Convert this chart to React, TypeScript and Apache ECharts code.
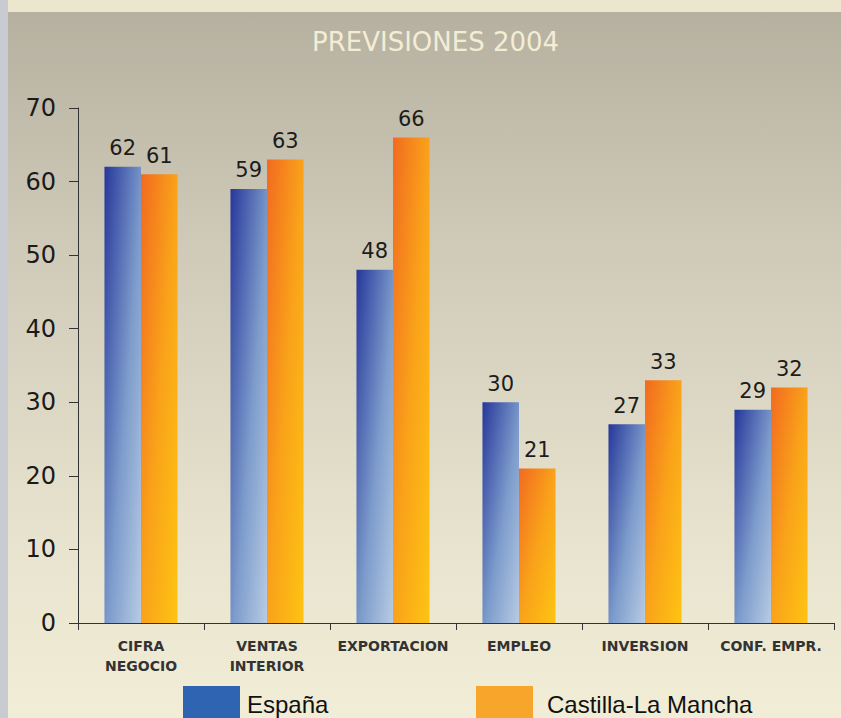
import React, { useEffect, useRef } from "react";
import * as echarts from "echarts";

const categories = ["CIFRA\nNEGOCIO", "VENTAS\nINTERIOR", "EXPORTACION", "EMPLEO", "INVERSION", "CONF. EMPR."];
const espana = [62, 59, 48, 30, 27, 29];
const castilla = [61, 63, 66, 21, 33, 32];
const yTicks = [0, 10, 20, 30, 40, 50, 60, 70];
const title = "PREVISIONES 2004";

export default function App() {
  const ref = useRef<HTMLDivElement>(null);
  useEffect(() => {
    const chart = echarts.init(ref.current!, null, { renderer: "svg" });
    const blueGrad = new echarts.graphic.LinearGradient(0, 0, 1, 1, [
      { offset: 0, color: "#26379a" },
      { offset: 0.55, color: "#7d9ccc" },
      { offset: 1, color: "#b7cbe3" },
    ]);
    const orangeGrad = new echarts.graphic.LinearGradient(0, 0, 1, 1, [
      { offset: 0, color: "#f26a1f" },
      { offset: 0.5, color: "#f9a21a" },
      { offset: 1, color: "#fec412" },
    ]);
    const labelStyle = {
      show: true,
      position: "top" as const,
      distance: 8,
      fontFamily: "DejaVu Sans",
      fontSize: 21,
      color: "#1c1c1c",
    };
    const legendText = { fontFamily: "Liberation Sans", fontSize: 24, color: "#111" };
    chart.setOption({
      animation: false,
      backgroundColor: "transparent",
      graphic: [
        {
          type: "rect",
          z: -10,
          silent: true,
          shape: { x: 0, y: 0, width: 841, height: 718 },
          style: {
            fill: new echarts.graphic.LinearGradient(0, 0, 0, 1, [
              { offset: 0, color: "#b5af9f" },
              { offset: 0.35, color: "#d0cbb9" },
              { offset: 0.75, color: "#e8e3ce" },
              { offset: 1, color: "#f2edd6" },
            ]),
          },
        },
        { type: "rect", z: -9, silent: true, shape: { x: 0, y: 0, width: 841, height: 12 }, style: { fill: "#ede6cf" } },
        { type: "rect", z: -9, silent: true, shape: { x: 0, y: 0, width: 8, height: 718 }, style: { fill: "#c9cbd3" } },
        {
          type: "text",
          left: 312,
          top: 29,
          style: {
            text: title,
            fontFamily: "DejaVu Sans",
            fontSize: 26,
            fill: "#f3edd5",
          },
        },
      ],
      legend: [
        {
          data: [{ name: "España", icon: "rect", itemStyle: { color: "#2e64b2" } }],
          left: 178,
          top: 681,
          itemWidth: 57,
          itemHeight: 36,
          textStyle: { ...legendText, padding: [0, 0, 0, 2] },
        },
        {
          data: [{ name: "Castilla-La Mancha", icon: "rect", itemStyle: { color: "#f8a52b" } }],
          left: 471,
          top: 681,
          itemWidth: 57,
          itemHeight: 36,
          textStyle: { ...legendText, padding: [0, 0, 0, 9] },
        },
      ],
      grid: { left: 78, right: 7, top: 108, bottom: 95, containLabel: false },
      xAxis: {
        type: "category",
        data: categories,
        axisLine: { lineStyle: { color: "#333", width: 1 } },
        axisTick: { show: true, alignWithLabel: false, length: 7, lineStyle: { color: "#333" } },
        axisLabel: {
          fontFamily: "DejaVu Sans",
          fontWeight: "bold",
          fontSize: 14,
          color: "#333",
          margin: 13,
          lineHeight: 20,
          interval: 0,
        },
      },
      yAxis: {
        type: "value",
        min: 0,
        max: 70,
        interval: 10,
        splitLine: { show: false },
        axisLine: { show: true, lineStyle: { color: "#333", width: 1 } },
        axisTick: { show: true, length: 9, lineStyle: { color: "#333" } },
        axisLabel: {
          fontFamily: "DejaVu Sans",
          fontSize: 24,
          color: "#1a1a1a",
          margin: 22,
          formatter: (v: number) => (yTicks.includes(v) ? String(v) : ""),
        },
      },
      series: [
        {
          name: "España",
          type: "bar",
          data: espana,
          barGap: "0%",
          barCategoryGap: "42%",
          itemStyle: { color: blueGrad },
          label: labelStyle,
        },
        {
          name: "Castilla-La Mancha",
          type: "bar",
          data: castilla,
          itemStyle: { color: orangeGrad },
          label: labelStyle,
        },
      ],
    });
    return () => chart.dispose();
  }, []);
  return (
    <div
      ref={ref}
      style={{ position: "absolute", left: 0, top: 0, width: 841, height: 718 }}
    />
  );
}
